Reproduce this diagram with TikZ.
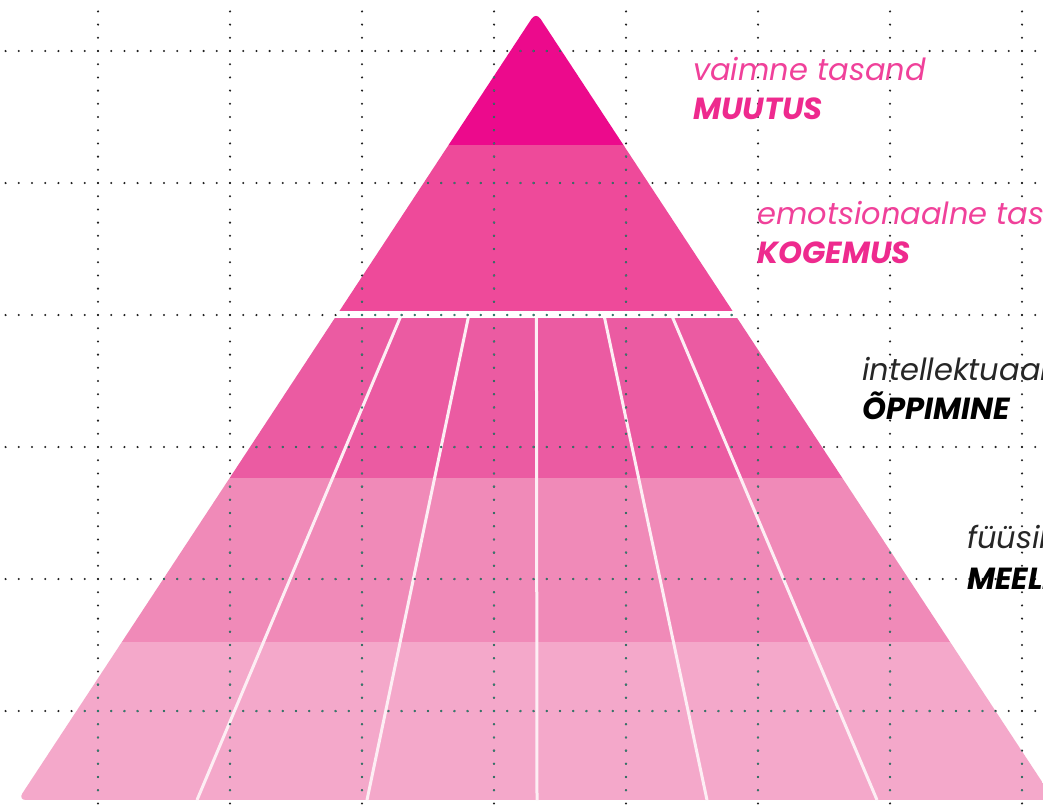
\documentclass[tikz,border=0pt]{standalone}
\usepackage{fontspec}
\setmainfont{Poppins}
\usetikzlibrary{positioning}

\definecolor{tierA}{HTML}{EC0A8C}
\definecolor{tierB}{HTML}{EE4A9A}
\definecolor{tierC}{HTML}{EB5BA2}
\definecolor{tierD}{HTML}{F08AB8}
\definecolor{tierE}{HTML}{F4A8CA}
\definecolor{pinktext}{HTML}{F0419A}
\definecolor{pinkbold}{HTML}{EE2A8E}
\definecolor{griddark}{HTML}{222222}
\definecolor{gridteal}{HTML}{2F8070}

% punktiirvõrk
\newcommand{\dotgrid}{%
  \foreach \gy in {51,183,315,447,579,711}
    \draw[griddots] (5.6,\gy) -- (1043,\gy);
  \foreach \gx in {98,230,...,1022}
    \draw[griddots] (\gx,11.4) -- (\gx,806);
}

\begin{document}
\begin{tikzpicture}[x=1pt, y=-1pt,
    griddots/.style={line width=2.3pt, line cap=round, dash pattern=on 0pt off 13.2pt},
    levelname/.style={anchor=base west, inner sep=0pt, font=\fontsize{30.5}{30}\selectfont\itshape},
    levelword/.style={anchor=base west, inner sep=0pt, font=\fontsize{30.5}{30}\selectfont\bfseries\itshape}]
  \useasboundingbox (0,0) rectangle (1043,806);
  \clip (0,0) rectangle (1043,806);
  \fill[white] (0,0) rectangle (1043,806);

  % 1. püramiidi astmed
  \begin{scope}
    \clip[rounded corners=8] (536,12) -- (1054,800) -- (18,800) -- cycle;
    \fill[tierA] (0,0) rectangle (1100,145);
    \fill[tierB] (0,145) rectangle (1100,311);
    \fill[tierC] (0,318) rectangle (1100,478);
    \fill[tierD] (0,478) rectangle (1100,642);
    \fill[tierE] (0,642) rectangle (1100,800);
    % valged jooned alumistes astmetes
    \begin{scope}
      \clip (0,318) rectangle (1100,800);
      \foreach \bx in {197,367,537,707,877}
        \draw[white!80!tierE, line width=3pt] (536,-5) -- (\bx,800);
    \end{scope}
  \end{scope}

  % 2. võrk (püramiidil rohekas)
  \begin{scope}[griddark]
    \dotgrid
  \end{scope}
  \begin{scope}[gridteal]
    \clip[rounded corners=8] (536,12) -- (1054,800) -- (18,800) -- cycle;
    \dotgrid
  \end{scope}

  % 3. tasandite nimed
  \node[levelname, text=pinktext] (vaimne) at (693,80) {vaimne tasand};
  \node[levelword, text=pinkbold] (muutus) at (693,119) {MUUTUS};
  \node[levelname, text=pinktext] (emots) at (757,224) {emotsionaalne tasand};
  \node[levelword, text=pinkbold] (kogemus) at (757,263) {KOGEMUS};
  \node[levelname, text=black!85] (intell) at (862,380) {intellektuaalne tasand};
  \node[levelword, text=black] (oppimine) at (862,419) {ÕPPIMINE};
  \node[levelname, text=black!85] (fyysiline) at (967,548) {füüsiline tasand};
  \node[levelword, text=black] (meeleline) at (967,589) {MEELELINE};
\end{tikzpicture}
\end{document}
